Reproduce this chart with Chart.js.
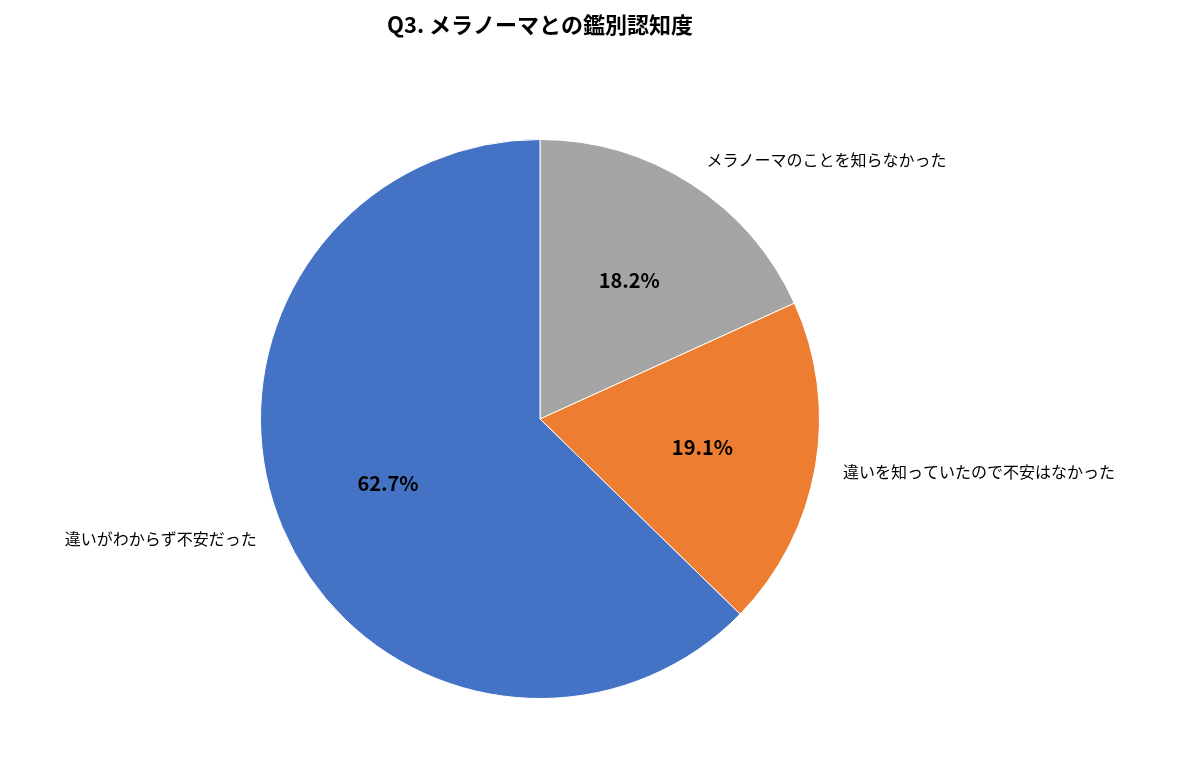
<!DOCTYPE html>
<html><head><meta charset="utf-8">
<script src="https://cdn.jsdelivr.net/npm/chart.js@4"></script>
<style>html,body{margin:0;background:#fff}#wrap{width:1200px;height:782px}</style>
</head><body><div id="wrap"><canvas id="c"></canvas></div>
<script>
const title = "Q3. メラノーマとの鑑別認知度";
const labels = ["メラノーマのことを知らなかった", "違いを知っていたので不安はなかった", "違いがわからず不安だった"];
const values = [18.2, 19.1, 62.7];
const colors = ["#a5a5a5", "#ed7d31", "#4472c4"];
const FONT = '"Noto Sans CJK JP", "Noto Sans", sans-serif';

const pieLabels = {
    id: "pieLabels",
    afterDraw(chart) {
        const ctx = chart.ctx;
        ctx.save();
        ctx.fillStyle = "#000";
        ctx.textBaseline = "middle";
        ctx.textAlign = "center";
        ctx.font = "bold 22px " + FONT;
        ctx.fillText(title, 540, 25);
        chart.getDatasetMeta(0).data.forEach((arc, i) => {
            const mid = (arc.startAngle + arc.endAngle) / 2;
            const r = arc.outerRadius;
            // percentage inside the slice
            ctx.font = "bold 20px " + FONT;
            ctx.textAlign = "center";
            ctx.fillText(values[i].toFixed(1) + "%", arc.x + Math.cos(mid) * r * 0.59, arc.y + Math.sin(mid) * r * 0.59);
            // category name outside
            const lx = arc.x + Math.cos(mid) * (r + 28);
            const ly = arc.y + Math.sin(mid) * (r + 28);
            ctx.font = "16px " + FONT;
            ctx.textAlign = lx > arc.x ? "left" : "right";
            ctx.fillText(labels[i], lx, ly);
        });
        ctx.restore();
    }
};

new Chart(document.getElementById("c"), {
    type: "pie",
    data: {
        labels: labels,
        datasets: [{ data: values, backgroundColor: colors, borderColor: "#fff", borderWidth: 1 }]
    },
    options: {
        responsive: true,
        maintainAspectRatio: false,
        animation: false,
        layout: { padding: { top: 139, bottom: 83, left: 0, right: 120 } },
        plugins: { legend: { display: false }, tooltip: { enabled: false } }
    },
    plugins: [pieLabels]
});
</script></body></html>
